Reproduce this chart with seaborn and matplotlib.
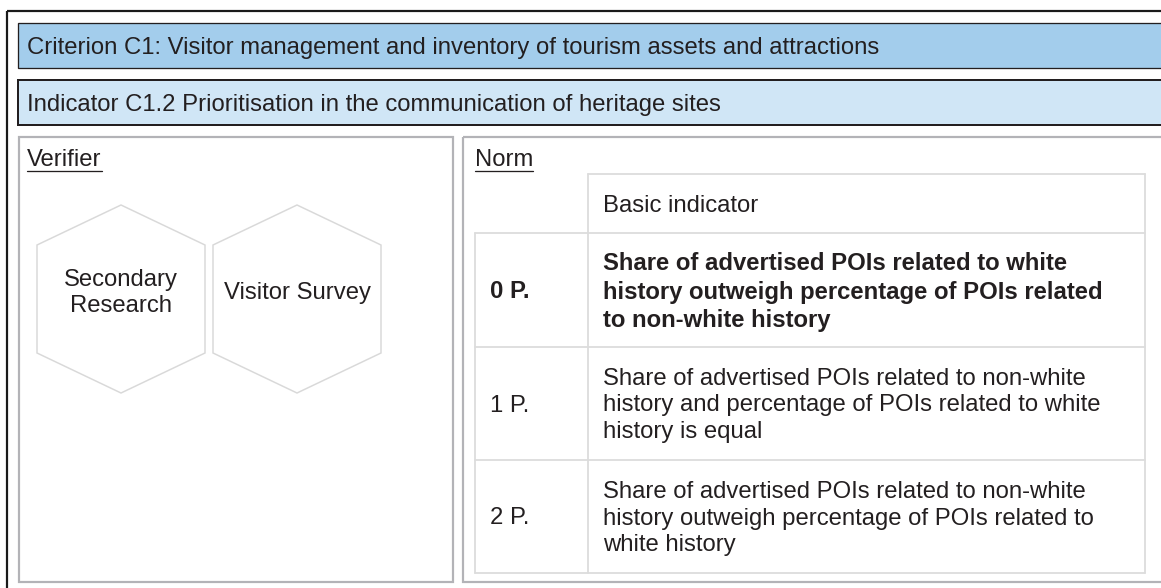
import matplotlib
matplotlib.use("Agg")
import matplotlib.pyplot as plt
import matplotlib.patches as mpatches
import seaborn as sns

# ---------------------------------------------------------------
# content
# ---------------------------------------------------------------
criterion = "Criterion C1: Visitor management and inventory of tourism assets and attractions"
indicator = "Indicator C1.2 Prioritisation in the communication of heritage sites"
verifiers = ["Secondary\nResearch", "Visitor Survey"]
header = "Basic indicator"
scores = ["0 P.", "1 P.", "2 P."]
norms = [
    "Share of advertised POIs related to white\nhistory outweigh percentage of POIs related\nto non-white history",
    "Share of advertised POIs related to non-white\nhistory and percentage of POIs related to white\nhistory is equal",
    "Share of advertised POIs related to non-white\nhistory outweigh percentage of POIs related to\nwhite history",
]
bold_row = 0

# ---------------------------------------------------------------
# styling
# ---------------------------------------------------------------
sns.set_theme(style="white")
plt.rcParams["font.family"] = ["Liberation Sans", "DejaVu Sans"]

W, H = 1161, 588
PX = 72 / 100  # px -> pt at dpi 100
txt = "#231f20"
fs = 17.2
ls = 1.28
dy = 2  # nudge text down to sit like the reference
blue_dark = "#a3cdec"
blue_light = "#d0e6f6"
panel_grey = "#b3b3b7"
cell_grey = "#dcdcdc"

fig = plt.figure(figsize=(W / 100, H / 100), dpi=100)
ax = fig.add_axes([0, 0, 1, 1])
ax.set_xlim(0, W)
ax.set_ylim(H, 0)
ax.axis("off")


def rect(x0, y0, x1, y1, fc="none", ec="black", lw=1.0, z=1):
    ax.add_patch(mpatches.Rectangle((x0, y0), x1 - x0, y1 - y0, facecolor=fc,
                                    edgecolor=ec, linewidth=lw * PX, zorder=z))


# outer frame (right/bottom run off the picture)
rect(7, 11, W + 20, H + 20, ec="#1a1a1a", lw=2.2)

# title bars
rect(18, 23, W + 20, 68, fc=blue_dark, ec=txt, lw=1.3, z=2)
ax.text(27, 46 + dy, criterion, fontsize=fs, color=txt, va="center", ha="left", zorder=3)
rect(18, 80, W + 20, 125, fc=blue_light, ec=txt, lw=2.0, z=2)
ax.text(27, 103 + dy, indicator, fontsize=fs, color=txt, va="center", ha="left", zorder=3)

# panels
rect(19, 137, 453, 582, ec=panel_grey, lw=2.2)
rect(463, 137, W + 20, 582, ec=panel_grey, lw=2.2)

fig.canvas.draw()
renderer = fig.canvas.get_renderer()
inv = ax.transData.inverted()


def underlined(x, y, s):
    t = ax.text(x, y, s, fontsize=fs, color=txt, va="center", ha="left")
    bb = t.get_window_extent(renderer)
    (x0, _), (x1, _) = inv.transform([(bb.x0, bb.y0), (bb.x1, bb.y0)])
    ax.plot([x0, x1], [y + 11, y + 11], color=txt, lw=1.3 * PX)


underlined(27, 160, "Verifier")
underlined(475, 160, "Norm")

# verifier hexagons
hex_cx = [121, 297]
hex_cy = 299
hw, hh, hs = 84, 94, 54
for cx, label in zip(hex_cx, verifiers):
    pts = [(cx, hex_cy - hh), (cx + hw, hex_cy - hs), (cx + hw, hex_cy + hs),
           (cx, hex_cy + hh), (cx - hw, hex_cy + hs), (cx - hw, hex_cy - hs)]
    ax.add_patch(mpatches.Polygon(pts, closed=True, facecolor="white",
                                  edgecolor="#d9d9d9", linewidth=1.5 * PX))
    ax.text(cx, hex_cy - 8 + dy, label, fontsize=fs, color=txt, ha="center",
            va="center", linespacing=ls)

# norm table
col_x = [475, 588, 1145]
row_y = [174, 233, 347, 460, 573]
lw_cell = 1.8 * PX
# header cell
ax.plot([col_x[1], col_x[2]], [row_y[0], row_y[0]], color=cell_grey, lw=lw_cell)
ax.plot([col_x[1], col_x[1]], [row_y[0], row_y[1]], color=cell_grey, lw=lw_cell)
ax.plot([col_x[2], col_x[2]], [row_y[0], row_y[-1]], color=cell_grey, lw=lw_cell)
ax.text(col_x[1] + 15, (row_y[0] + row_y[1]) / 2 + dy, header, fontsize=fs, color=txt,
        va="center", ha="left")
# body rows
for y in row_y[1:]:
    ax.plot([col_x[0], col_x[2]], [y, y], color=cell_grey, lw=lw_cell)
ax.plot([col_x[0], col_x[0]], [row_y[1], row_y[-1]], color=cell_grey, lw=lw_cell)
ax.plot([col_x[1], col_x[1]], [row_y[1], row_y[-1]], color=cell_grey, lw=lw_cell)

for i, (sc, desc) in enumerate(zip(scores, norms)):
    yc = (row_y[i + 1] + row_y[i + 2]) / 2 + dy
    w = "bold" if i == bold_row else "normal"
    ax.text(col_x[0] + 15, yc, sc, fontsize=fs, color=txt, va="center", ha="left",
            fontweight=w)
    ax.text(col_x[1] + 15, yc, desc, fontsize=fs, color=txt, va="center", ha="left",
            fontweight=w, linespacing=ls)

fig.savefig("out.png", dpi=100, facecolor="white")
